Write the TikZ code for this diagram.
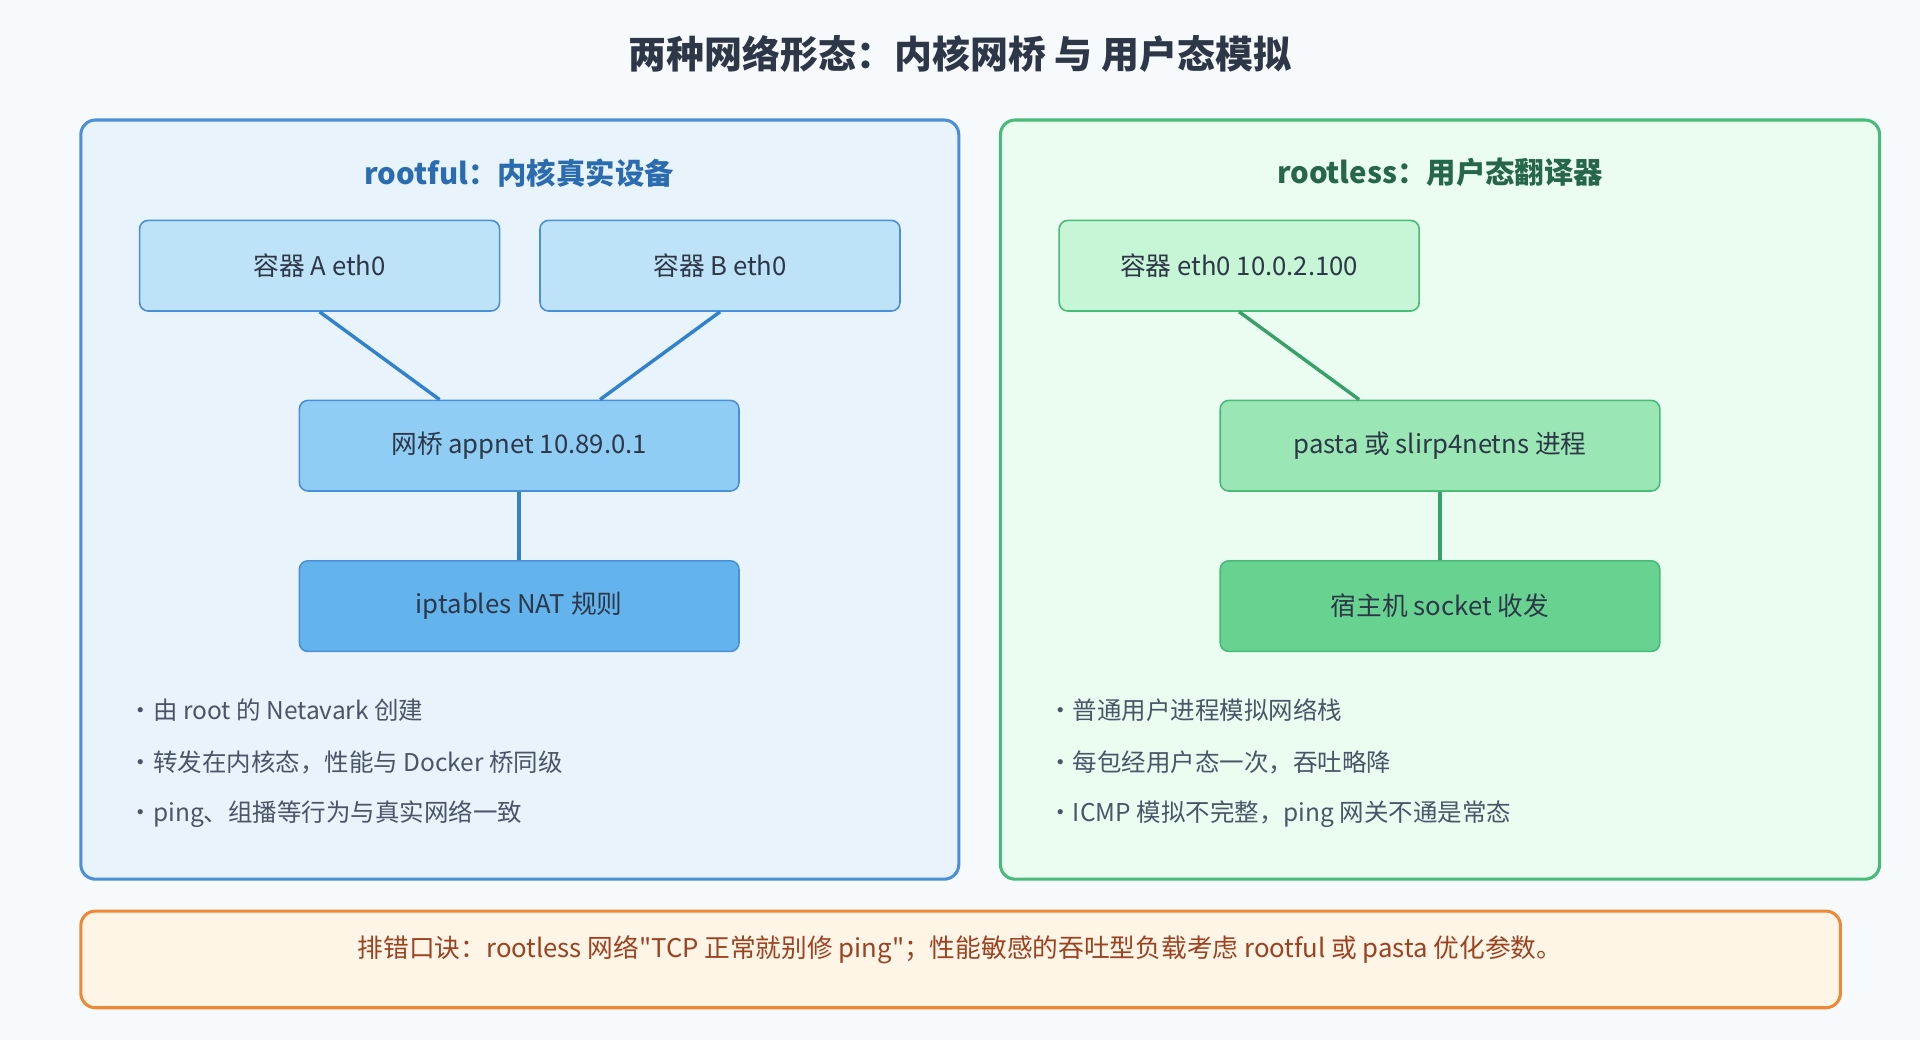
\documentclass[tikz,border=0pt]{standalone}
\usepackage{fontspec}
\setmainfont{Noto Sans CJK SC}
\newfontfamily\cjk{Noto Sans CJK SC}
\definecolor{bgc}{HTML}{F7FAFC}
\definecolor{titlec}{HTML}{2D3748}
\definecolor{bluefill}{HTML}{E8F3FC}
\definecolor{blueline}{HTML}{4A90D9}
\definecolor{bluehead}{HTML}{2B6CB0}
\definecolor{blueA}{HTML}{BEE3F8}
\definecolor{blueB}{HTML}{90CDF4}
\definecolor{blueC}{HTML}{63B3ED}
\definecolor{bluelink}{HTML}{3182CE}
\definecolor{greenfill}{HTML}{EBFDF1}
\definecolor{greenline}{HTML}{48BB78}
\definecolor{greenhead}{HTML}{276749}
\definecolor{greenA}{HTML}{C6F6D5}
\definecolor{greenB}{HTML}{9AE6B4}
\definecolor{greenC}{HTML}{68D391}
\definecolor{greenlink}{HTML}{38A169}
\definecolor{textc}{HTML}{4A5568}
\definecolor{notefill}{HTML}{FFF5E6}
\definecolor{noteline}{HTML}{ED8936}
\definecolor{notetext}{HTML}{9C4221}
\newcommand{\dotb}{\rlap{\hspace{-8pt}·}\hspace{12pt}}
\tikzset{
  panel/.style={rounded corners=12pt, line width=2.5pt},
  dev/.style={rounded corners=7pt, line width=1.3pt, minimum width=294pt,
    minimum height=74pt, text=titlec, font=\fontsize{21}{25}\selectfont},
  wide/.style={dev, minimum width=359pt},
  link/.style={line width=2.8pt},
  bullet/.style={anchor=west, inner sep=0pt, text=textc, font=\fontsize{20}{24}\selectfont},
  head/.style={font=\bfseries\fontsize{24}{29}\selectfont}
}
\begin{document}
\begin{tikzpicture}[x=1pt,y=-1pt]
\fill[bgc] (0,0) rectangle (1568,849);
\useasboundingbox (0,0) rectangle (1568,849);
\node[text=titlec, font=\bfseries\fontsize{31}{37}\selectfont] (title) at (784,44) {两种网络形态：内核网桥 与 用户态模拟};
% rootful
\draw[panel, draw=blueline, fill=bluefill] (66,98) rectangle (783,718);
\node[head, text=bluehead] (lhead) at (424,141) {rootful：内核真实设备};
\node[dev, fill=blueA, draw=blueline] (ctrA) at (261,217) {容器 A eth0};
\node[dev, fill=blueA, draw=blueline] (ctrB) at (588,217) {容器 B eth0};
\node[wide, fill=blueB, draw=blueline] (bridge) at (424,364) {网桥 appnet 10.89.0.1};
\node[wide, fill=blueC, draw=blueline] (nat) at (424,495) {iptables NAT 规则};
\draw[link, bluelink] (ctrA.south) -- ([xshift=-65pt]bridge.north);
\draw[link, bluelink] (ctrB.south) -- ([xshift=66pt]bridge.north);
\draw[link, bluelink] (bridge) -- (nat);
\node[bullet] (l1) at (113,580) {\dotb{}由 root 的 Netavark 创建};
\node[bullet] (l2) at (113,623) {\dotb{}转发在内核态，性能与 Docker 桥同级};
\node[bullet] (l3) at (113,665) {\dotb{}ping、组播等行为与真实网络一致};
% rootless
\draw[panel, draw=greenline, fill=greenfill] (817,98) rectangle (1535,718);
\node[head, text=greenhead] (rhead) at (1176,141) {rootless：用户态翻译器};
\node[dev, fill=greenA, draw=greenline] (ctr) at (1012,217) {容器 eth0 10.0.2.100};
\node[wide, fill=greenB, draw=greenline] (pasta) at (1176,364) {pasta 或 slirp4netns 进程};
\node[wide, fill=greenC, draw=greenline] (sock) at (1176,495) {宿主机 socket 收发};
\draw[link, greenlink] (ctr.south) -- ([xshift=-66pt]pasta.north);
\draw[link, greenlink] (pasta) -- (sock);
\node[bullet] (r1) at (864,580) {\dotb{}普通用户进程模拟网络栈};
\node[bullet] (r2) at (864,623) {\dotb{}每包经用户态一次，吞吐略降};
\node[bullet] (r3) at (864,665) {\dotb{}ICMP 模拟不完整，ping 网关不通是常态};
% note
\draw[rounded corners=12pt, line width=2.5pt, draw=noteline, fill=notefill] (66,744) rectangle (1503,823);
\node[text=notetext, font=\fontsize{21}{25}\selectfont\addfontfeature{Ligatures=TeXOff}] (note) at (784,776) {排错口诀：rootless 网络"TCP 正常就别修 ping"；性能敏感的吞吐型负载考虑 rootful 或 pasta 优化参数。};
\end{tikzpicture}
\end{document}
